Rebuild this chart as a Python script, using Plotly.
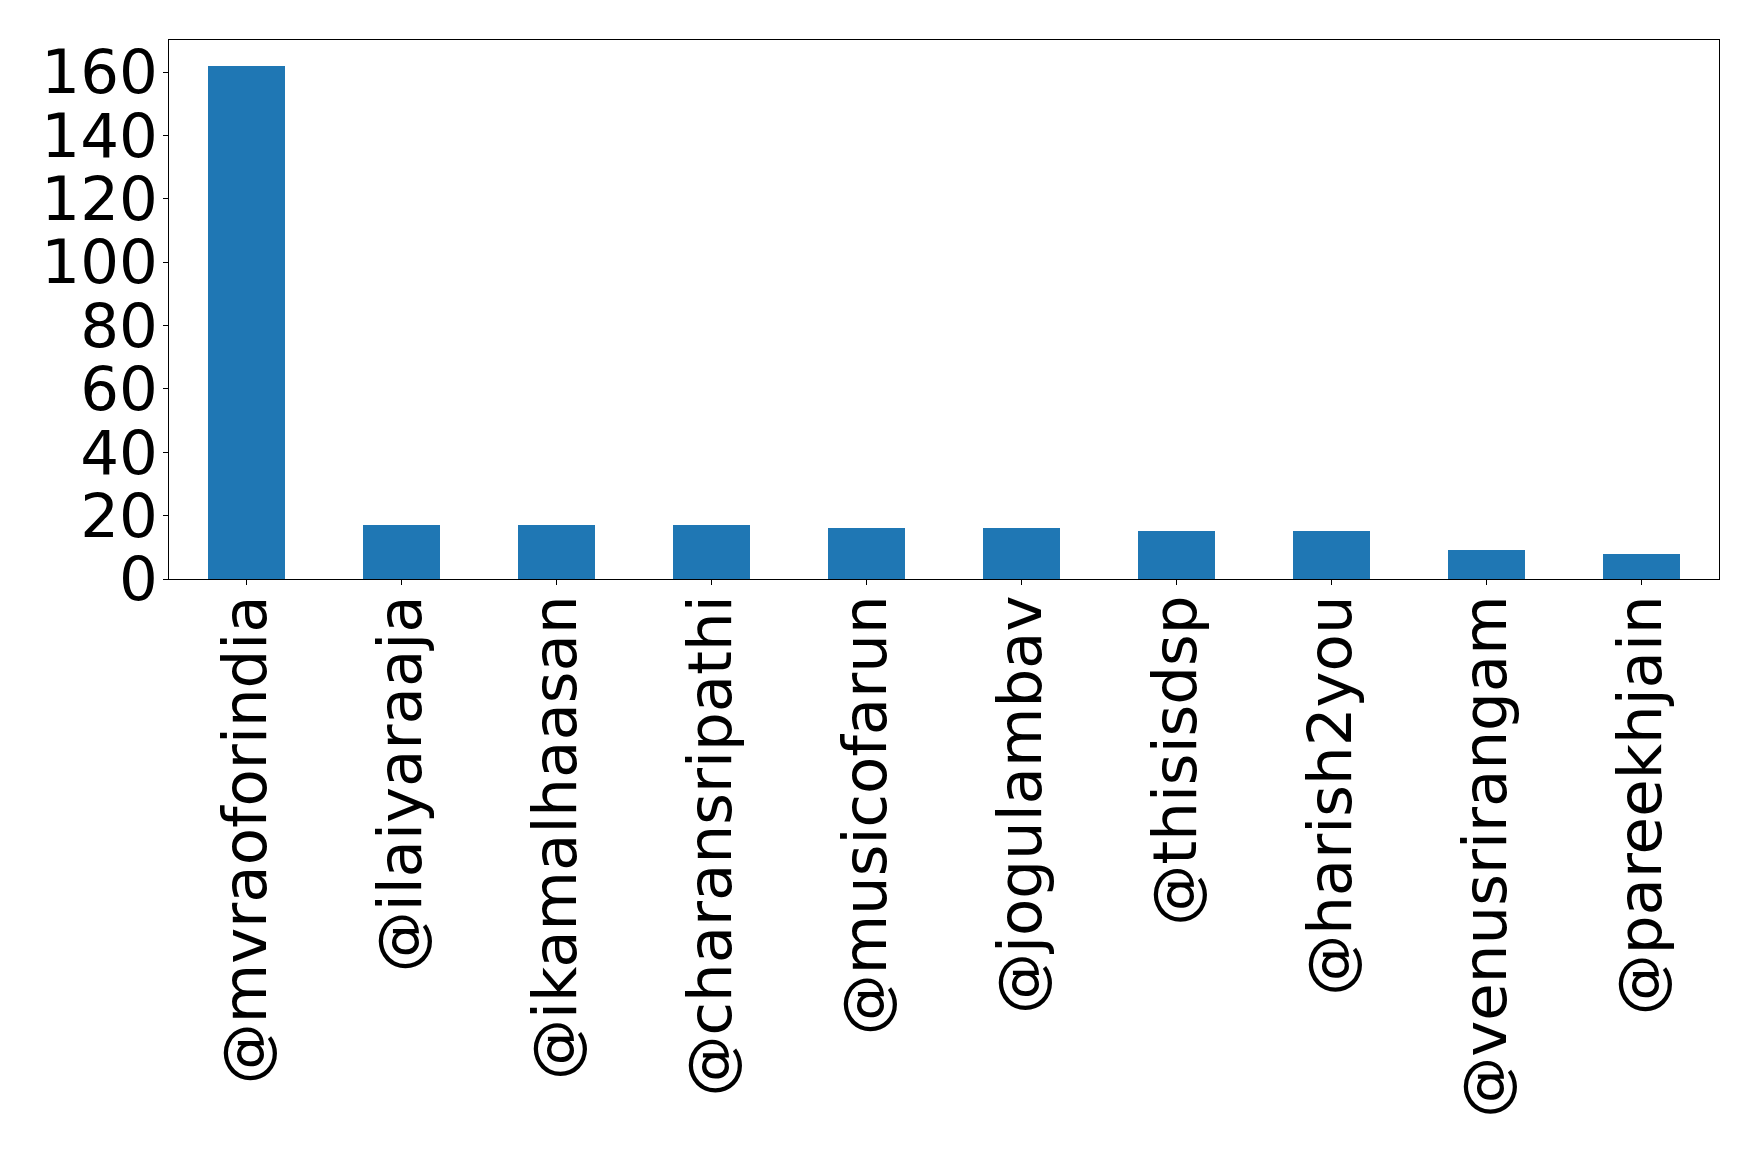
import plotly.graph_objects as go

handles = ["@mvraoforindia", "@ilaiyaraaja", "@ikamalhaasan", "@charansripathi",
           "@musicofarun", "@jogulambav", "@thisisdsp", "@harish2you",
           "@venusrirangam", "@pareekhjain"]
counts = [162, 17, 17, 17, 16, 16, 15, 15, 9, 8]
ytick_vals = [0, 20, 40, 60, 80, 100, 120, 140, 160]

fig = go.Figure(go.Bar(x=list(range(len(handles))), y=counts, width=0.5,
                       marker=dict(color="#1f77b4", line=dict(width=0))))

font = dict(family="DejaVu Sans", size=61, color="black")
fig.update_layout(
    width=1750, height=1155,
    margin=dict(l=161, r=39, t=32, b=584),
    plot_bgcolor="white", paper_bgcolor="white",
    showlegend=False,
    bargap=0,
)
fig.update_xaxes(
    range=[-0.5, len(handles) - 0.5],
    tickmode="array", tickvals=list(range(len(handles))), ticktext=handles,
    tickangle=-90, tickfont=font, ticklabelstandoff=-14,
    showline=True, linecolor="black", linewidth=1, mirror=True,
    ticks="outside", ticklen=5, tickcolor="black",
    showgrid=False, zeroline=False, automargin=False,
)
fig.update_yaxes(
    range=[0, 170.1],
    tickmode="array", tickvals=ytick_vals,
    tickfont=font, ticklabelstandoff=-7,
    showline=True, linecolor="black", linewidth=1, mirror=True,
    ticks="outside", ticklen=5, tickcolor="black",
    showgrid=False, zeroline=False, automargin=False,
)
fig.write_html("out.html")
